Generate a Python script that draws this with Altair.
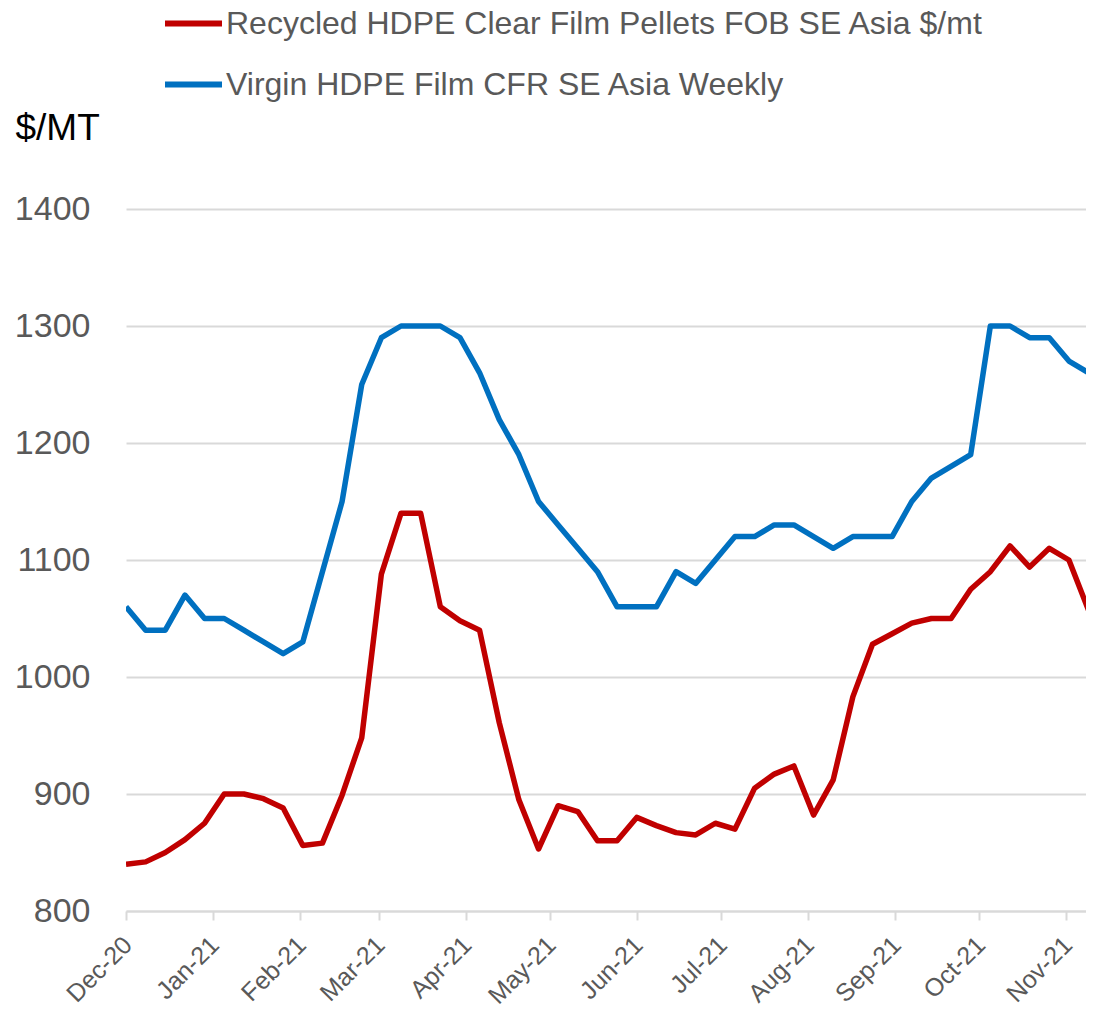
import altair as alt
import pandas as pd

# ---- data (weekly, starting 1 Dec 2020) ----
start_date = "2020-12-01"

recycled = [840, 842, 850, 861, 875, 900, 900, 896, 888, 856,
            858, 899, 948, 1088, 1140, 1140, 1060, 1048, 1040, 961,
            895, 853, 890, 885, 860, 860, 880, 873, 867, 865,
            875, 870, 905, 917, 924, 882, 912, 983, 1028, 1037,
            1046, 1050, 1050, 1075, 1090, 1112, 1094, 1110, 1100, 1057]

virgin = [1060, 1040, 1040, 1070, 1050, 1050, 1040, 1030, 1020, 1030,
          1090, 1150, 1250, 1290, 1300, 1300, 1300, 1290, 1260, 1220,
          1190, 1150, 1130, 1110, 1090, 1060, 1060, 1060, 1090, 1080,
          1100, 1120, 1120, 1130, 1130, 1120, 1110, 1120, 1120, 1120,
          1150, 1170, 1180, 1190, 1300, 1300, 1290, 1290, 1270, 1260]

series_names = ["Recycled HDPE Clear Film Pellets FOB SE Asia $/mt",
                "Virgin HDPE Film CFR SE Asia Weekly"]
series_colors = ["#C00000", "#0070C0"]

month_ticks = [(2020, 12), (2021, 1), (2021, 2), (2021, 3), (2021, 4), (2021, 5),
               (2021, 6), (2021, 7), (2021, 8), (2021, 9), (2021, 10), (2021, 11)]
y_ticks = [800, 900, 1000, 1100, 1200, 1300, 1400]
y_title = "$/MT"

dates = list(pd.date_range(start_date, periods=len(recycled), freq="7D").strftime("%Y-%m-%d"))
df = pd.DataFrame({
    "date": dates + dates,
    "value": recycled + virgin,
    "series": [series_names[0]] * len(recycled) + [series_names[1]] * len(virgin),
})

FONT = "Liberation Sans"
GREY = "#595959"
GRID = "#d9d9d9"

tick_values = [alt.DateTime(year=y, month=m, date=1, utc=True) for y, m in month_ticks]
x_domain = [alt.DateTime(year=2020, month=12, date=1, utc=True),
            alt.DateTime(year=2021, month=11, date=8, hours=2, utc=True)]

chart = alt.Chart(df).mark_line(strokeWidth=5.5, clip=True, strokeJoin="round").encode(
    x=alt.X("date:T", timeUnit="utcyearmonthdate",
            scale=alt.Scale(domain=x_domain),
            axis=alt.Axis(values=tick_values, format="%b-%y", title=None,
                          labelAngle=-45, labelAlign="right", labelBaseline="top",
                          labelPadding=12, labelOffset=-7, labelFlush=False,
                          labelOverlap=False, labelBound=False,
                          labelFont=FONT, labelFontSize=25, labelColor=GREY,
                          grid=False, domainColor=GRID, domainWidth=2,
                          tickColor=GRID, tickWidth=2, tickSize=9)),
    y=alt.Y("value:Q",
            scale=alt.Scale(domain=[800, 1400], nice=False, zero=False),
            axis=alt.Axis(values=y_ticks, format="d", title=y_title, titleAngle=0,
                          titleAlign="left", titleBaseline="middle",
                          titleX=-111, titleY=-81, titleFont=FONT,
                          titleFontSize=37, titleFontWeight="normal",
                          titleColor="black",
                          labelFont=FONT, labelFontSize=34, labelColor=GREY,
                          labelPadding=36, domain=False, ticks=False,
                          grid=True, gridColor=GRID, gridWidth=2)),
    color=alt.Color("series:N",
                    scale=alt.Scale(domain=series_names, range=series_colors),
                    legend=alt.Legend(orient="none", legendX=36, legendY=-217,
                                      direction="vertical", title=None,
                                      symbolType="stroke", symbolSize=3249,
                                      symbolStrokeWidth=6, labelFontSize=32,
                                      labelFont=FONT, labelColor=GREY,
                                      labelOffset=1, rowPadding=13, padding=0,
                                      labelLimit=2000)),
).properties(
    width=960,
    height=702,
    autosize=alt.AutoSizeParams(type="none"),
    padding={"left": 118, "top": 201, "right": 0, "bottom": 104},
).configure_view(stroke=None)

chart.save("out.html", embed_options={"renderer": "svg", "actions": False})
